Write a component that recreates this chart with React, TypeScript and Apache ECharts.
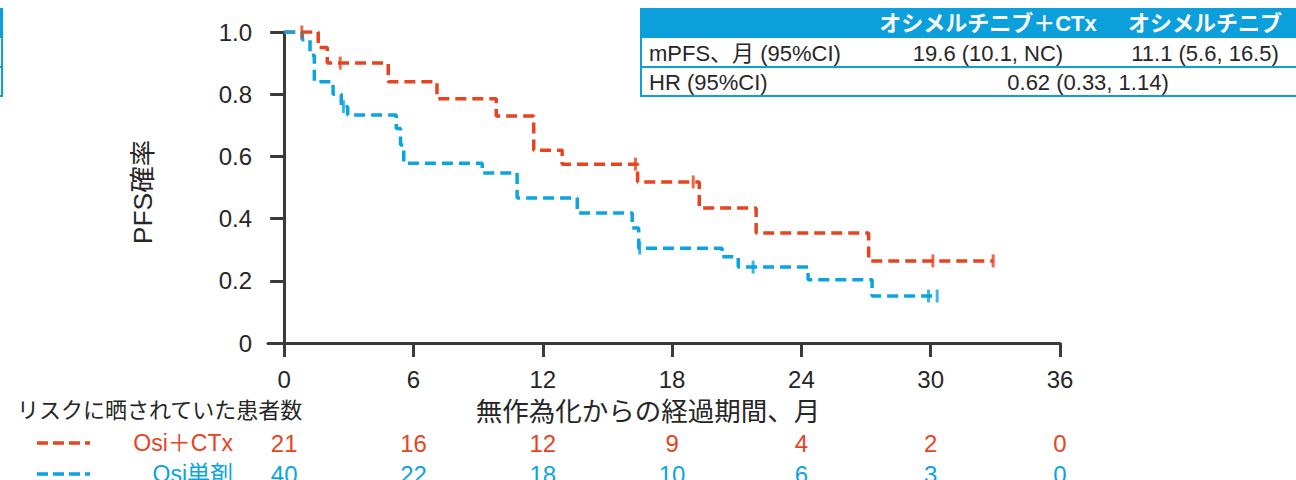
import React, { useEffect, useRef } from "react";
import * as echarts from "echarts";

const RED = "#E8431F";
const BLUE = "#0AA5E0";
const TABLE_BLUE = "#0BA0DC";
const INK = "#262626";
const FONT = "'Liberation Sans', Arial, 'Noto Sans CJK JP', sans-serif";

const monthTicks = [0, 6, 12, 18, 24, 30, 36];

// Kaplan-Meier steps: [month, survival after the event]
const osiCtxSteps = [
  [0, 1.0], [1.58, 0.95], [2.0, 0.9], [4.83, 0.84], [7.09, 0.785], [9.84, 0.73],
  [11.58, 0.62], [12.9, 0.575], [16.4, 0.518], [19.26, 0.434], [21.9, 0.354],
  [27.12, 0.264], [32.9, 0.264],
];
const osiCtxCensored = [
  [0.82, 1.0], [2.6, 0.9], [16.3, 0.575], [18.98, 0.518], [30.1, 0.264], [32.9, 0.264],
];

const osiSteps = [
  [0, 1.0], [0.84, 0.975], [1.2, 0.925], [1.4, 0.84], [2.27, 0.8], [2.65, 0.76],
  [2.95, 0.733], [5.2, 0.69], [5.4, 0.637], [5.55, 0.578], [9.19, 0.547],
  [10.81, 0.466], [13.6, 0.418], [16.15, 0.37], [16.45, 0.305], [20.32, 0.277],
  [21.07, 0.244], [24.31, 0.203], [27.28, 0.151], [30.3, 0.151],
];
const osiCensored = [
  [2.75, 0.76], [16.5, 0.305], [21.76, 0.244], [29.9, 0.151], [30.3, 0.151],
];

const riskTitle = "リスクに晒されていた患者数";
const riskLabels = ["Osi＋CTx", "Osi単剤"];
const atRiskOsiCtx = [21, 16, 12, 9, 4, 2, 0];
const atRiskOsi = [40, 22, 18, 10, 6, 3, 0];

const tableHeader = ["オシメルチニブ＋CTx", "オシメルチニブ"];
const mpfsRow = ["mPFS、月 (95%CI)", "19.6 (10.1, NC)", "11.1 (5.6, 16.5)"];
const hrRow = ["HR (95%CI)", "0.62 (0.33, 1.14)"];

const xTitle = "無作為化からの経過期間、月";
const yTitle = "PFS確率";

function txt(x: number, y: number, text: string, opts: any = {}) {
  return {
    type: "text",
    x,
    y,
    rotation: opts.rotation || 0,
    style: {
      text,
      fill: opts.fill || INK,
      fontSize: opts.fontSize || 22,
      fontWeight: opts.fontWeight || "normal",
      fontFamily: FONT,
      align: opts.align || "left",
      verticalAlign: "middle",
    },
  };
}

function hline(x1: number, x2: number, y: number, color: string, w = 2, dash?: number[]) {
  return {
    type: "line",
    shape: { x1, y1: y, x2, y2: y },
    style: { stroke: color, lineWidth: w, lineDash: dash },
  };
}

function vline(x: number, y1: number, y2: number, color: string, w = 2) {
  return {
    type: "line",
    shape: { x1: x, y1, x2: x, y2 },
    style: { stroke: color, lineWidth: w },
  };
}

export default function App() {
  const ref = useRef<HTMLDivElement>(null);

  useEffect(() => {
    if (!ref.current) return;
    const chart = echarts.init(ref.current, null, { renderer: "svg" });

    const censorSeries = (data: number[][], color: string) => ({
      type: "scatter",
      data,
      symbol: "rect",
      symbolSize: [3, 13],
      itemStyle: { color },
      clip: false,
      z: 4,
    });

    const stepSeries = (data: number[][], color: string) => ({
      type: "line",
      data,
      step: "end",
      showSymbol: false,
      symbol: "none",
      lineStyle: { color, width: 3.5, type: [11, 6] },
      z: 3,
    });

    chart.setOption({
      animation: false,
      grid: { left: 268, right: 236, top: 32, bottom: 137 },
      xAxis: {
        type: "value",
        min: -0.75,
        max: 36,
        axisLine: { lineStyle: { color: "#3a3a3a", width: 3 } },
        axisTick: {
          customValues: monthTicks,
          length: 14,
          lineStyle: { color: "#3a3a3a", width: 3 },
        },
        axisLabel: {
          customValues: monthTicks,
          margin: 24,
          fontSize: 24,
          color: INK,
          fontFamily: FONT,
        },
        splitLine: { show: false },
      },
      yAxis: {
        type: "value",
        min: 0,
        max: 1,
        interval: 0.2,
        axisLine: { show: true, lineStyle: { color: "#3a3a3a", width: 3 } },
        axisTick: { show: true, length: 14, lineStyle: { color: "#3a3a3a", width: 3 } },
        axisLabel: {
          margin: 16,
          fontSize: 24,
          color: INK,
          fontFamily: FONT,
          formatter: (v: number) => (v === 0 ? "0" : v.toFixed(1)),
        },
        splitLine: { show: false },
      },
      series: [
        stepSeries(osiCtxSteps, RED),
        censorSeries(osiCtxCensored, RED),
        stepSeries(osiSteps, BLUE),
        censorSeries(osiCensored, BLUE),
      ],
    });

    const px = (t: number) => chart.convertToPixel({ xAxisIndex: 0 }, t) as number;
    const riskNumbers: any[] = [];
    monthTicks.forEach((t, i) => {
      riskNumbers.push(txt(px(t), 443, String(atRiskOsiCtx[i]), { fill: RED, fontSize: 24, align: "center" }));
      riskNumbers.push(txt(px(t), 474, String(atRiskOsi[i]), { fill: BLUE, fontSize: 24, align: "center" }));
    });

    chart.setOption({
      graphic: [
        // axis titles
        txt(648, 412, xTitle, { fontSize: 26.5, align: "center" }),
        txt(143, 192, yTitle, { fontSize: 26.5, align: "center", rotation: Math.PI / 2 }),

        // summary table
        { type: "rect", shape: { x: 640, y: 8, width: 700, height: 30 }, style: { fill: TABLE_BLUE } },
        vline(641, 8, 97, TABLE_BLUE),
        hline(640, 1300, 67, TABLE_BLUE),
        hline(640, 1300, 96, TABLE_BLUE),
        txt(988, 23, tableHeader[0], { fill: "#ffffff", fontWeight: "bold", align: "center" }),
        txt(1205, 23, tableHeader[1], { fill: "#ffffff", fontWeight: "bold", align: "center" }),
        txt(649, 53, mpfsRow[0]),
        txt(988, 53, mpfsRow[1], { align: "center" }),
        txt(1205, 53, mpfsRow[2], { align: "center" }),
        txt(649, 82, hrRow[0]),
        txt(1088, 82, hrRow[1], { align: "center" }),

        // neighbouring table edge
        { type: "rect", shape: { x: -2, y: 8, width: 5, height: 30 }, style: { fill: TABLE_BLUE } },
        vline(2, 38, 97, TABLE_BLUE),
        hline(0, 3, 67, TABLE_BLUE),
        hline(0, 3, 96, TABLE_BLUE),

        // numbers at risk
        txt(17, 410, riskTitle, { fontSize: 22 }),
        hline(37, 90, 443, RED, 3.5, [11, 5]),
        hline(37, 90, 474, BLUE, 3.5, [11, 5]),
        txt(233, 443, riskLabels[0], { fill: RED, fontSize: 23, align: "right" }),
        txt(233, 474, riskLabels[1], { fill: BLUE, fontSize: 23, align: "right" }),
        ...riskNumbers,
      ],
    });

    return () => chart.dispose();
  }, []);

  return (
    <div
      ref={ref}
      style={{ position: "fixed", left: 0, top: 0, width: 1296, height: 480, background: "#fff" }}
    />
  );
}
